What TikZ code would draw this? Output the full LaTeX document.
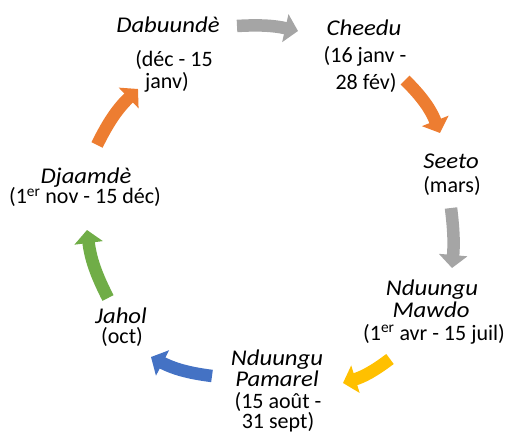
\documentclass[tikz,border=0pt]{standalone}
\usepackage{fontspec}
\setmainfont{Carlito}[ItalicFeatures={FakeStretch=1.1}]
\usetikzlibrary{arrows.meta}
\definecolor{cgray}{HTML}{A5A5A5}
\definecolor{corange}{HTML}{ED7D31}
\definecolor{cyellow}{HTML}{FFC000}
\definecolor{cblue}{HTML}{4472C4}
\definecolor{cgreen}{HTML}{70AD47}
\begin{document}
\begin{tikzpicture}[x=1pt,y=1pt,
  lbl/.style={anchor=base, inner sep=0pt, font=\fontsize{22}{26}\selectfont},
  nm/.style={lbl, font=\fontsize{22.5}{26}\selectfont\itshape},
  cyc/.style={line width=12.5pt, -{Triangle[width=28pt,length=13pt]}}]
\useasboundingbox (0,0) rectangle (510,-435);
% labels
\node[nm]  (dab1) at (168,-33) {Dabuundè};
\node[lbl] (dab2) at (174,-67) {(déc - 15};
\node[lbl] (dab3) at (167,-89) {janv)};
\node[nm]  (che1) at (364,-36) {Cheedu};
\node[lbl] (che2) at (365,-63) {(16 janv -};
\node[lbl] (che3) at (366,-90) {28 fév)};
\node[nm]  (see1) at (451,-169) {Seeto};
\node[lbl] (see2) at (452,-193) {(mars)};
\node[nm]  (maw1) at (432,-295) {Nduungu};
\node[nm]  (maw2) at (431,-317) {Mawdo};
\node[lbl] (maw3) at (434,-340) {(1\textsuperscript{er} avr - 15 juil)};
\node[nm]  (pam1) at (277,-365) {Nduungu};
\node[nm]  (pam2) at (277,-386) {Pamarel};
\node[lbl, anchor=center, align=center, font=\fontsize{22}{19}\selectfont]
  (pam3) at (278,-412) {(15 août -\\31 sept)};
\node[nm]  (jah1) at (121,-323) {Jahol};
\node[lbl] (jah2) at (122,-343) {(oct)};
\node[nm]  (dja1) at (86,-184) {Djaamdè};
\node[lbl] (dja2) at (85,-204) {(1\textsuperscript{er} nov - 15 déc)};
% arrow end points
\coordinate (a1s) at (237,-26); \coordinate (a1e) at (298,-31);
\coordinate (a2s) at (405,-80); \coordinate (a2e) at (440,-133);
\coordinate (a3s) at (451,-208); \coordinate (a3e) at (452,-268);
\coordinate (a4s) at (390,-359); \coordinate (a4e) at (343,-383);
\coordinate (a5s) at (212,-376); \coordinate (a5e) at (151,-357);
\coordinate (a6s) at (108,-298); \coordinate (a6e) at (87,-230);
\coordinate (a7s) at (97,-145); \coordinate (a7e) at (138,-89);
% arrows
\draw[cyc, cgray]   (a1s) to[bend left=8] (a1e);
\draw[cyc, corange] (a2s) to[bend left=12] (a2e);
\draw[cyc, cgray]   (a3s) to[bend left=6] (a3e);
\draw[cyc, cyellow] (a4s) to[bend left=10] (a4e);
\draw[cyc, cblue]   (a5s) to[bend left=10] (a5e);
\draw[cyc, cgreen]  (a6s) to[bend left=10] (a6e);
\draw[cyc, corange] (a7s) to[bend left=10] (a7e);
\end{tikzpicture}
\end{document}
